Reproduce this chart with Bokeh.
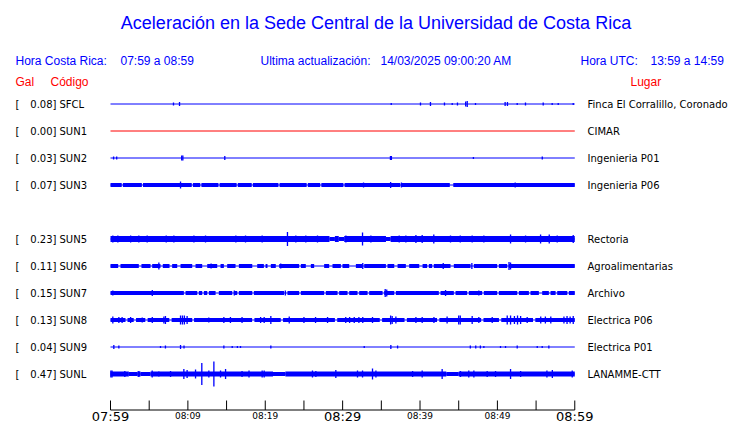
from bokeh.plotting import figure
from bokeh.models import Range1d
from bokeh.embed import file_html
from bokeh.resources import INLINE
from bokeh.core.properties import value

# ---------------- data ----------------
codes = ["SFCL", "SUN1", "SUN2", "SUN3", "SUN5", "SUN6", "SUN7", "SUN8", "SUN9", "SUNL"]
slots = [0, 1, 2, 3, 5, 6, 7, 8, 9, 10]          # SUN4 (slot 4) has no trace
peak_gal = [0.08, 0.00, 0.03, 0.07, 0.23, 0.11, 0.15, 0.13, 0.04, 0.47]
places = ["Finca El Corralillo, Coronado", "CIMAR", "Ingenieria P01", "Ingenieria P06",
          "Rectoria", "Agroalimentarias", "Archivo", "Electrica P06", "Electrica P01",
          "LANAMME-CTT"]

# time axis (minutes after 07:59 local)
tick_minutes = [0, 5, 10, 15, 20, 25, 30, 35, 40, 45, 50, 55, 60]
label_minutes = [0, 10, 20, 30, 40, 50, 60]
label_texts = ["07:59", "08:09", "08:19", "08:29", "08:39", "08:49", "08:59"]
label_major = [True, False, False, True, False, False, True]

# trace envelopes (display amplitude units, 1 unit = 1/27 of row spacing)
base_amp = [0.5, 0.5, 0.5, 2.0, 3.0, 2.0, 2.0, 2.0, 0.5, 2.5]
low_amp = [0.5, 0.5, 0.5, 0.5, 2.0, 0.5, 0.5, 0.5, 0.5, 2.0]

sfcl_t = [8.14, 8.92, 36.28, 40.06, 41.35, 43.16, 44.16, 44.84, 45.9, 46.1, 47.17, 51.0,
          51.3, 52.56, 53.63, 55.92, 57.08, 57.86, 59.8]
sfcl_a = [1.5, 2, 1, 1.5, 2, 1.5, 1, 1.5, 2.5, 3, 1, 2, 2, 1, 1.5, 1.5, 1, 1, 1]

sun2_t = [0.4, 0.8, 9.2, 9.35, 14.77, 36.18, 36.3, 46.9, 55.8]
sun2_a = [1.5, 1.5, 2.5, 2.5, 2, 2, 2, 1, 1.5]

sun3_low = [(1.45, 1.6), (4.05, 4.2), (10.5, 10.65), (11.6, 11.75), (13.95, 14.1),
            (16.3, 16.45), (18.25, 18.4), (21.7, 21.85), (25.35, 25.5), (27.1, 27.25),
            (30.1, 30.25), (37.45, 37.6), (43.85, 44.3)]
sun3_t = [9.05, 32.7, 36.2, 37.6, 52.3]
sun3_a = [3.5, 2.5, 3, 2.5, 2.5]

sun5_low = [(28.3, 29.0), (29.5, 30.2), (35.6, 36.2)]
sun5_t = [0.3, 0.95, 1.94, 2.6, 3.66, 4.74, 5.6, 6.25, 7.2, 8.19, 9.9, 10.78, 12.28, 13.15,
          14.0, 14.87, 16.2, 17.45, 18.3, 19.6, 21.0, 22.87, 23.95, 25.24, 26.75, 28.0,
          30.42, 32.14, 32.57, 33.65, 34.73, 37.31, 38.17, 39.47, 40.28, 41.78, 43.94,
          45.2, 46.74, 48.25, 50.4, 51.7, 53.64, 55.58, 56.7, 57.73, 59.0, 59.8]
sun5_a = [3.5, 3.5, 3, 3.5, 3.5, 3.5, 3, 3, 3.5, 3.5, 3, 3.5, 3.5, 3, 3, 3, 3.5, 3.5, 3,
          3.5, 3, 7, 3.5, 3.5, 3.5, 3, 3.5, 3, 6.5, 3.5, 3, 3.5, 3.5, 4, 4, 4.5, 3.5,
          3.5, 3.5, 3.5, 3, 4.5, 3.5, 4.5, 4.5, 3.5, 3, 4]

sun6_low = [(0.99, 1.29), (3.66, 4.0), (5.17, 5.39), (6.46, 6.76), (7.63, 7.97),
            (8.62, 9.05), (10.56, 10.99), (11.85, 12.5), (13.79, 14.22), (14.65, 15.08),
            (16.16, 16.59), (18.32, 18.96), (19.82, 20.04), (20.29, 20.72), (21.36, 21.8),
            (24.38, 24.6), (25.24, 25.89), (26.32, 27.61), (28.26, 28.69), (29.77, 29.98),
            (30.85, 31.71), (32.57, 32.79), (35.59, 35.8), (36.67, 37.1), (38.17, 38.6),
            (39.9, 40.33), (40.92, 41.14), (41.57, 41.78), (43.94, 44.37), (46.53, 46.96),
            (49.97, 50.19), (51.27, 51.48)]
sun6_t = [6.25, 13.0, 22.0, 32.6, 43.0, 46.7, 51.5, 51.7]
sun6_a = [3.5, 2.5, 2.5, 3, 3, 3, 4, 3.5]

sun7_low = [(9.48, 9.7), (11.21, 11.42), (11.85, 12.07), (12.5, 12.72), (13.58, 14.0),
            (15.73, 15.95), (16.38, 16.59), (18.32, 18.53), (22.44, 22.87), (24.38, 24.6),
            (27.61, 27.83), (29.34, 29.55), (30.63, 30.85), (31.92, 32.14), (33.22, 33.43),
            (35.16, 35.37), (36.67, 36.88), (42.43, 42.65), (44.37, 44.59), (46.09, 46.31),
            (48.03, 48.25), (49.97, 50.19), (52.56, 52.78), (54.07, 54.28), (55.36, 55.79),
            (56.65, 56.87), (57.52, 57.73), (59.03, 59.24)]
sun7_t = [0.3, 5.4, 16.0, 22.6, 35.5, 35.7, 43.3, 47.6]
sun7_a = [2.5, 3, 2.5, 2.5, 4, 3.5, 3, 2.5]

sun8_low = [(1.94, 2.2), (3.0, 3.3), (4.5, 4.8), (7.6, 7.9), (10.56, 10.8), (18.3, 18.6),
            (22.0, 22.3), (29.0, 29.3), (34.8, 35.1), (38.0, 38.3), (42.2, 42.5),
            (47.9, 48.2), (50.2, 50.5), (54.6, 54.9)]
sun8_t = [0.3, 1.08, 1.5, 2.6, 4.1, 5.4, 6.9, 7.1, 9.05, 9.3, 9.55, 9.9, 12.7, 14.65,
          15.5, 17.0, 19.4, 19.86, 20.72, 23.1, 25.0, 26.5, 28.05, 30.4, 30.9, 31.5, 32.1,
          32.6, 33.86, 36.2, 36.4, 36.88, 39.47, 40.28, 41.8, 43.5, 45.0, 45.2, 46.74,
          47.6, 49.33, 51.27, 51.7, 52.2, 52.6, 53.0, 53.85, 55.6, 56.2, 56.9, 58.6,
          59.0, 59.4, 59.8]
sun8_a = [3.5, 3, 3, 3, 2.5, 3, 3.5, 4, 4.5, 4.5, 4.5, 4, 2.5, 3, 3, 3, 3, 3, 4, 3.5,
          3, 3, 3, 3, 3, 3, 3, 3, 3, 4.5, 4, 3.5, 3, 3, 3, 3.5, 4.5, 4.5, 4, 3, 3, 4.5,
          4.5, 4, 4.5, 4, 3, 3.5, 3.5, 3.5, 3.5, 4, 3.5, 4]

sun9_t = [0.43, 1.08, 6.46, 7.1, 9.05, 9.5, 14.65, 15.73, 16.4, 16.8, 20.72, 32.79,
          36.23, 37.1, 46.5, 47.2, 47.8, 48.25, 50.4, 51.05, 52.56, 55.15, 55.79, 56.65]
sun9_a = [2, 1.5, 1, 1.5, 2, 1.5, 1.5, 1, 1, 1, 1.5, 1, 2, 1.5, 1.5, 1.5, 1.5, 1, 1, 1,
          1.5, 1, 1, 1.5]

sunl_low = [(2.37, 3.45), (3.88, 5.17), (21.0, 22.6), (43.4, 45.0)]
sunl_t = [0.05, 0.2, 1.85, 3.66, 5.39, 6.25, 7.76, 9.48, 9.9, 10.99, 11.8, 12.71, 13.36,
          14.22, 14.87, 17.0, 17.9, 19.6, 19.86, 26.1, 26.54, 29.12, 31.92, 32.57, 33.86,
          34.3, 39.04, 40.28, 42.86, 45.23, 46.3, 46.96, 48.68, 49.76, 51.7, 53.0, 56.4,
          57.1, 59.67]
sunl_a = [3.5, 3.5, 3, 3, 3.5, 2.5, 3, 5, 4, 4.5, 11, 3.5, 12.5, 3.5, 5, 3, 3.5, 3.5,
          3.5, 3.5, 3, 4, 3.5, 3.5, 5.5, 3.5, 3, 3.5, 5, 3, 3.5, 3.5, 3, 3, 5, 3, 3.5, 4,
          3.5]

low_spans = [[], [], [], sun3_low, sun5_low, sun6_low, sun7_low, sun8_low, [], sunl_low]
burst_t = [sfcl_t, [], sun2_t, sun3_t, sun5_t, sun6_t, sun7_t, sun8_t, sun9_t, sunl_t]
burst_a = [sfcl_a, [], sun2_a, sun3_a, sun5_a, sun6_a, sun7_a, sun8_a, sun9_a, sunl_a]

# ---------------- layout ----------------
W, H = 740, 423
PX0, PXPERMIN = 110.0, 7.738     # canvas x of minute 0, px per minute
ROW0, ROWPX = 103.5, 27.0         # canvas y of slot 0, px per slot
BLUE, RED, BLACK = "#0000ff", "#ff0000", "#000000"


def dx(px):   # canvas px -> data x
    return (px - PX0) / PXPERMIN


def dy(py):   # canvas px -> data y
    return (py - ROW0) / ROWPX


p = figure(width=W, height=H, output_backend="svg", toolbar_location=None,
           x_range=Range1d(-PX0 / PXPERMIN, (W - PX0) / PXPERMIN),
           y_range=Range1d((H - ROW0) / ROWPX, -ROW0 / ROWPX),
           min_border=0, outline_line_color=None, background_fill_color="white",
           border_fill_color="white")
p.axis.visible = False
p.grid.visible = False


def band_spans(t0, t1, lows):
    out, cur = [], t0
    for a, b in sorted(lows):
        if a > cur:
            out.append((cur, a))
        cur = max(cur, b)
    if cur < t1:
        out.append((cur, t1))
    return out


T0, T1 = tick_minutes[0], tick_minutes[-1]
BW = 0.17  # burst width in minutes
for k, code in enumerate(codes):
    r = slots[k]
    col = RED if code == "SUN1" else BLUE
    p.segment(x0=[T0], y0=[r], x1=[T1], y1=[r], line_color=col, line_width=1)
    lows = low_spans[k]
    if base_amp[k] > 0.5:
        spans = band_spans(T0, T1, lows)
        h = base_amp[k] / ROWPX
        p.quad(left=[s[0] for s in spans], right=[s[1] for s in spans],
               top=[r - h] * len(spans), bottom=[r + h] * len(spans),
               fill_color=col, line_color=None)
        if low_amp[k] > 0.5 and lows:
            hl = low_amp[k] / ROWPX
            p.quad(left=[s[0] for s in lows], right=[s[1] for s in lows],
                   top=[r - hl] * len(lows), bottom=[r + hl] * len(lows),
                   fill_color=col, line_color=None)
    ts, as_ = burst_t[k], burst_a[k]
    if ts:
        p.quad(left=[t - BW / 2 for t in ts], right=[t + BW / 2 for t in ts],
               top=[r - a / ROWPX for a in as_], bottom=[r + a / ROWPX for a in as_],
               fill_color=col, line_color=None)

# station labels
ys = slots
p.text(x=[dx(15)] * len(ys), y=ys, text=["["] * len(ys), text_font=value("DejaVu Sans"),
       text_font_size="10px", text_color=BLACK, text_baseline="middle", text_align="left")
p.text(x=[dx(56)] * len(ys), y=ys, text=[f"{v:.2f}]" for v in peak_gal],
       text_font=value("DejaVu Sans"), text_font_size="10px", text_color=BLACK,
       text_baseline="middle", text_align="right")
p.text(x=[dx(59)] * len(ys), y=ys, text=codes, text_font=value("DejaVu Sans"),
       text_font_size="10px", text_color=BLACK, text_baseline="middle", text_align="left")
p.text(x=[dx(587)] * len(ys), y=ys, text=places, text_font=value("DejaVu Sans"),
       text_font_size="10px", text_color=BLACK, text_baseline="middle", text_align="left")

# time axis
AX_Y = dy(409.5)
TICK_Y = dy(400)
p.segment(x0=[T0], y0=[AX_Y], x1=[T1], y1=[AX_Y], line_color=BLACK, line_width=1)
p.segment(x0=tick_minutes, y0=[AX_Y] * len(tick_minutes), x1=tick_minutes,
          y1=[TICK_Y] * len(tick_minutes), line_color=BLACK, line_width=1)
big = [m for m, b in zip(label_minutes, label_major) if b]
bigt = [t for t, b in zip(label_texts, label_major) if b]
small = [m for m, b in zip(label_minutes, label_major) if not b]
smallt = [t for t, b in zip(label_texts, label_major) if not b]
p.text(x=big, y=[dy(415.5)] * len(big), text=bigt, text_font=value("DejaVu Sans"),
       text_font_size="13px", text_color=BLACK, text_align="center",
       text_baseline="middle")
p.text(x=small, y=[dy(415.5)] * len(small), text=smallt, text_font=value("DejaVu Sans"),
       text_font_size="9px", text_color=BLACK, text_align="center",
       text_baseline="middle")

# header texts
SANS = value("Liberation Sans")
p.text(x=[dx(375.5)], y=[dy(22)], text=["Aceleración en la Sede Central de la Universidad de Costa Rica"],
       text_font=SANS, text_font_size="18px", text_color=BLUE, text_align="center",
       text_baseline="middle")
hx = [dx(15), dx(120), dx(260), dx(380), dx(580), dx(650)]
ht = ["Hora Costa Rica:", "07:59 a 08:59", "Ultima actualización:",
      "14/03/2025 09:00:20 AM", "Hora UTC:", "13:59 a 14:59"]
p.text(x=hx, y=[dy(60.5)] * len(hx), text=ht, text_font=SANS, text_font_size="12px",
       text_color=BLUE, text_align="left", text_baseline="middle")
rx = [dx(15), dx(50), dx(630)]
rt = ["Gal", "Código", "Lugar"]
p.text(x=rx, y=[dy(81)] * len(rx), text=rt, text_font=SANS, text_font_size="12px",
       text_color=RED, text_align="left", text_baseline="middle")

open("out.html", "w").write(file_html(p, INLINE))
